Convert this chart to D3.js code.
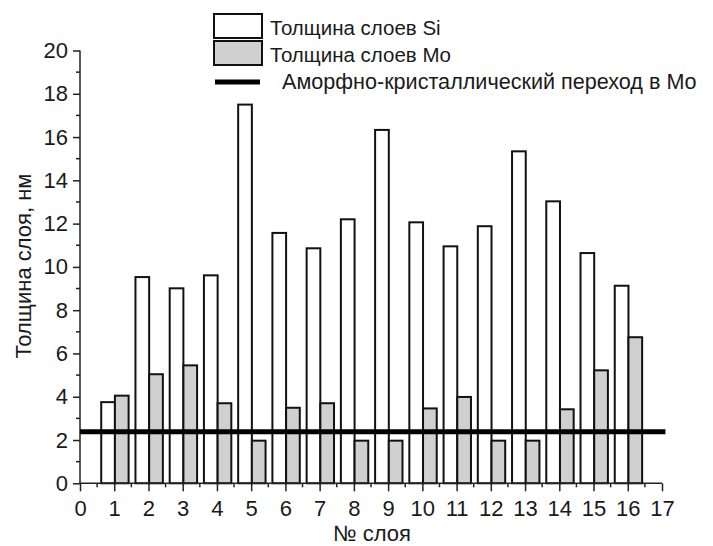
<!DOCTYPE html>
<html>
<head>
<meta charset="utf-8">
<script src="https://cdn.jsdelivr.net/npm/d3@7"></script>
<style>
  html, body { margin: 0; padding: 0; background: #fff; }
  svg { display: block; }
  text { font-family: "Liberation Sans", Arial, sans-serif; fill: #1a1a1a; }
</style>
</head>
<body>
<svg id="chart" width="713" height="546"></svg>
<script>
// Layer numbers and measured thicknesses (nm)
const layers = [1, 2, 3, 4, 5, 6, 7, 8, 9, 10, 11, 12, 13, 14, 15, 16];
const siThickness = [3.75, 9.53, 9.01, 9.61, 17.5, 11.57, 10.86, 12.2, 16.33, 12.06, 10.95, 11.88, 15.34, 13.03, 10.64, 9.13];
const moThickness = [4.05, 5.04, 5.45, 3.7, 1.97, 3.49, 3.7, 1.97, 1.97, 3.46, 3.99, 1.97, 1.97, 3.42, 5.22, 6.75];
const transitionLevel = 2.38;

const xTicks = d3.range(0, 18);
const yTicks = d3.range(0, 21, 2);
const seriesNames = ["Толщина слоев Si", "Толщина слоев Mo", "Аморфно-кристаллический переход в Mo"];
const xTitle = "№ слоя";
const yTitle = "Толщина слоя, нм";

const svg = d3.select("#chart");
const x = d3.scaleLinear().domain([0, 17]).range([80, 662]);
const y = d3.scaleLinear().domain([0, 20]).range([483.3, 50.5]);

const barW = 0.4;
const siStart = -0.38;
const moFill = "#d0d0d0";

// Si bars (left of each layer tick)
svg.append("g").selectAll("rect").data(layers).join("rect")
  .attr("x", (d) => x(d + siStart))
  .attr("width", (d) => x(d + siStart + barW) - x(d + siStart))
  .attr("y", (d, i) => y(siThickness[i]))
  .attr("height", (d, i) => y(0) - y(siThickness[i]))
  .attr("fill", "#fff").attr("stroke", "#111").attr("stroke-width", 2);

// Mo bars (right of each layer tick)
svg.append("g").selectAll("rect").data(layers).join("rect")
  .attr("x", (d) => x(d + siStart + barW))
  .attr("width", (d) => x(d + siStart + 2 * barW) - x(d + siStart + barW))
  .attr("y", (d, i) => y(moThickness[i]))
  .attr("height", (d, i) => y(0) - y(moThickness[i]))
  .attr("fill", moFill).attr("stroke", "#111").attr("stroke-width", 2);

// Axes
const xAxis = d3.axisBottom(x).tickValues(xTicks).tickSize(8).tickPadding(9).tickFormat(d3.format("d"));
const gx = svg.append("g").attr("transform", `translate(0,${y(0)})`).call(xAxis);
gx.selectAll(".tick line").attr("stroke", "#222").attr("stroke-width", 1.5);
gx.select(".domain").attr("stroke", "#222").attr("stroke-width", 1.5).attr("d", `M${x(0)},0H${x(17)}`);
gx.selectAll(".tick text").attr("font-size", 22).attr("fill", "#1a1a1a").attr("font-family", "Liberation Sans, Arial, sans-serif");
gx.selectAll(".minor").data(d3.range(0.5, 17, 1)).join("line").attr("class", "minor")
  .attr("x1", (d) => x(d)).attr("x2", (d) => x(d)).attr("y1", 0).attr("y2", 4)
  .attr("stroke", "#222").attr("stroke-width", 1.5);

const yAxis = d3.axisLeft(y).tickValues(yTicks).tickSize(7).tickPadding(5).tickFormat(d3.format("d"));
const gy = svg.append("g").attr("transform", `translate(${x(0)},0)`).call(yAxis);
gy.selectAll(".tick line").attr("stroke", "#222").attr("stroke-width", 1.5);
gy.select(".domain").attr("stroke", "#222").attr("stroke-width", 1.5).attr("d", `M0,${y(0)}V${y(20)}`);
gy.selectAll(".tick text").attr("font-size", 22).attr("fill", "#1a1a1a").attr("font-family", "Liberation Sans, Arial, sans-serif");
gy.selectAll(".minor").data(d3.range(1, 20, 2)).join("line").attr("class", "minor")
  .attr("x1", 0).attr("x2", -4).attr("y1", (d) => y(d)).attr("y2", (d) => y(d))
  .attr("stroke", "#222").attr("stroke-width", 1.5);

// Amorphous-crystalline transition level
svg.append("line")
  .attr("x1", x(0)).attr("x2", x(17.1))
  .attr("y1", y(transitionLevel)).attr("y2", y(transitionLevel))
  .attr("stroke", "#000").attr("stroke-width", 5);

// Axis titles
svg.append("text").attr("x", 372).attr("y", 541).attr("text-anchor", "middle")
  .attr("font-size", 22).text(xTitle);
svg.append("text").attr("transform", "translate(31,266) rotate(-90)").attr("text-anchor", "middle")
  .attr("font-size", 22).text(yTitle);

// Legend
const legend = svg.append("g");
legend.append("rect").attr("x", 214).attr("y", 14).attr("width", 48).attr("height", 24)
  .attr("fill", "#fff").attr("stroke", "#111").attr("stroke-width", 2);
legend.append("rect").attr("x", 214).attr("y", 41).attr("width", 48).attr("height", 24)
  .attr("fill", moFill).attr("stroke", "#111").attr("stroke-width", 2);
legend.append("line").attr("x1", 215).attr("x2", 260).attr("y1", 82).attr("y2", 82)
  .attr("stroke", "#000").attr("stroke-width", 5);
legend.append("text").attr("x", 270).attr("y", 35).attr("font-size", 20.5).text(seriesNames[0]);
legend.append("text").attr("x", 270).attr("y", 62).attr("font-size", 20.5).text(seriesNames[1]);
legend.append("text").attr("x", 282).attr("y", 89).attr("font-size", 21.6).text(seriesNames[2]);
</script>
</body>
</html>
